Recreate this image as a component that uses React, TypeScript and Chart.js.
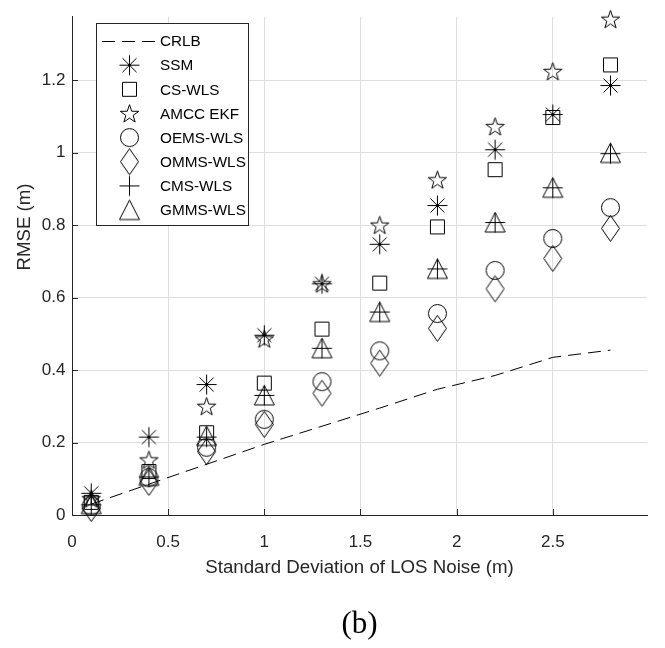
import React, { useEffect, useRef } from 'react';
import { Chart, registerables } from 'chart.js';

Chart.register(...registerables);

// ---- data ----
const xValues = [0.1, 0.4, 0.7, 1.0, 1.3, 1.6, 1.9, 2.2, 2.5, 2.8];
const crlb = [0.03, 0.085, 0.14, 0.195, 0.245, 0.295, 0.347, 0.385, 0.435, 0.455];
const ssm = [0.06, 0.215, 0.36, 0.496, 0.638, 0.747, 0.854, 1.008, 1.105, 1.185];
const csWls = [0.035, 0.12, 0.227, 0.364, 0.513, 0.64, 0.795, 0.953, 1.097, 1.242];
const amccEkf = [0.045, 0.152, 0.3, 0.486, 0.638, 0.8, 0.925, 1.072, 1.224, 1.368];
const oemsWls = [0.025, 0.103, 0.187, 0.264, 0.368, 0.453, 0.556, 0.675, 0.763, 0.848];
const ommsWls = [0.018, 0.09, 0.175, 0.25, 0.336, 0.419, 0.515, 0.624, 0.708, 0.791];
const cmsWls = [0.028, 0.105, 0.215, 0.33, 0.46, 0.56, 0.679, 0.807, 0.903, 0.997];
const gmmsWls = [0.03, 0.108, 0.218, 0.33, 0.46, 0.56, 0.679, 0.807, 0.903, 0.999];

const xTicks = [0, 0.5, 1, 1.5, 2, 2.5];
const yTicks = [0, 0.2, 0.4, 0.6, 0.8, 1, 1.2];

const seriesNames = ['CRLB', 'SSM', 'CS-WLS', 'AMCC EKF', 'OEMS-WLS', 'OMMS-WLS', 'CMS-WLS', 'GMMS-WLS'];
const markerKinds = ['line', 'asterisk', 'square', 'star', 'circle', 'diamond', 'plus', 'triangle'];

const xTitle = 'Standard Deviation of LOS Noise (m)';
const yTitle = 'RMSE (m)';
const caption = '(b)';

const SANS = '"Liberation Sans", Arial, Helvetica, sans-serif';

function makeMarker(kind: string): HTMLCanvasElement {
  const W = 25, H = 31;
  const c = document.createElement('canvas');
  c.width = W; c.height = H;
  const g = c.getContext('2d') as CanvasRenderingContext2D;
  g.strokeStyle = '#000';
  g.lineWidth = 1;
  const cx = W / 2, cy = H / 2;
  g.beginPath();
  if (kind === 'asterisk') {
    g.moveTo(cx, cy - 10); g.lineTo(cx, cy + 10);
    g.moveTo(cx - 10, cy); g.lineTo(cx + 10, cy);
    g.moveTo(cx - 7, cy - 7); g.lineTo(cx + 7, cy + 7);
    g.moveTo(cx - 7, cy + 7); g.lineTo(cx + 7, cy - 7);
  } else if (kind === 'square') {
    g.rect(cx - 7, cy - 7, 14, 14);
  } else if (kind === 'star') {
    const R = 9.6, r = 3.8;
    for (let i = 0; i < 10; i++) {
      const rad = i % 2 === 0 ? R : r;
      const a = -Math.PI / 2 + (i * Math.PI) / 5;
      const px = cx + rad * Math.cos(a);
      const py = cy + 0.8 + rad * Math.sin(a);
      if (i === 0) g.moveTo(px, py); else g.lineTo(px, py);
    }
    g.closePath();
  } else if (kind === 'circle') {
    g.arc(cx, cy, 9, 0, Math.PI * 2);
  } else if (kind === 'diamond') {
    g.moveTo(cx, cy - 13); g.lineTo(cx + 9, cy); g.lineTo(cx, cy + 13); g.lineTo(cx - 9, cy); g.closePath();
  } else if (kind === 'plus') {
    g.moveTo(cx, cy - 10); g.lineTo(cx, cy + 10);
    g.moveTo(cx - 10, cy); g.lineTo(cx + 10, cy);
  } else if (kind === 'triangle') {
    g.moveTo(cx, cy - 10); g.lineTo(cx + 10, cy + 9.5); g.lineTo(cx - 10, cy + 9.5); g.closePath();
  }
  g.stroke();
  return c;
}

export default function App() {
  const ref = useRef<HTMLCanvasElement | null>(null);

  useEffect(() => {
    if (!ref.current) return;
    const markers: Record<string, HTMLCanvasElement> = {};
    markerKinds.forEach((k) => { if (k !== 'line') markers[k] = makeMarker(k); });

    const seriesValues = [crlb, ssm, csWls, amccEkf, oemsWls, ommsWls, cmsWls, gmmsWls];

    const datasets: any[] = seriesValues.map((vals, i) => {
      const pts = xValues.map((x, j) => ({ x, y: vals[j] }));
      if (markerKinds[i] === 'line') {
        return {
          label: seriesNames[i], data: pts, showLine: true, pointRadius: 0,
          borderColor: '#000', borderWidth: 1, borderDash: [13, 7], fill: false, clip: false,
        };
      }
      return {
        label: seriesNames[i], data: pts, showLine: false,
        pointStyle: markers[markerKinds[i]], pointRadius: 8, clip: false,
        borderColor: '#000', backgroundColor: 'rgba(0,0,0,0)',
      };
    });

    const overlay = {
      id: 'overlay',
      afterDraw(chart: any) {
        const ctx = chart.ctx as CanvasRenderingContext2D;
        const xs = chart.scales.x, ys = chart.scales.y;
        const { left, right, bottom } = chart.chartArea;
        ctx.save();
        ctx.strokeStyle = '#262626';
        ctx.lineWidth = 1;
        xTicks.forEach((v) => {
          const px = Math.round(xs.getPixelForValue(v)) + 0.5;
          ctx.beginPath(); ctx.moveTo(px, bottom); ctx.lineTo(px, bottom - 6); ctx.stroke();
        });
        yTicks.forEach((v) => {
          const py = Math.round(ys.getPixelForValue(v)) + 0.5;
          ctx.beginPath(); ctx.moveTo(left, py); ctx.lineTo(left + 6, py); ctx.stroke();
        });
        // axis titles
        ctx.fillStyle = '#262626';
        ctx.font = `18.7px ${SANS}`;
        ctx.textAlign = 'center';
        ctx.textBaseline = 'middle';
        ctx.fillText(xTitle, (left + right) / 2, 568);
        ctx.save();
        ctx.translate(25, 227);
        ctx.rotate(-Math.PI / 2);
        ctx.fillText(yTitle, 0, 0);
        ctx.restore();
        // caption
        ctx.fillStyle = '#000';
        ctx.font = '31px "Liberation Serif", "Times New Roman", serif';
        ctx.textBaseline = 'alphabetic';
        ctx.fillText(caption, (left + right) / 2, 633);
        // legend
        const bx = 96.5, by = 23.5, bw = 152, bh = 202;
        ctx.fillStyle = '#fff';
        ctx.fillRect(bx, by, bw, bh);
        ctx.strokeStyle = '#262626';
        ctx.strokeRect(bx, by, bw, bh);
        ctx.font = `15.3px ${SANS}`;
        ctx.textAlign = 'left';
        ctx.textBaseline = 'middle';
        seriesNames.forEach((name, i) => {
          const yy = 41 + i * 24.15;
          const kind = markerKinds[i];
          if (kind === 'line') {
            ctx.save();
            ctx.strokeStyle = '#000';
            ctx.setLineDash([13, 7]);
            ctx.beginPath();
            ctx.moveTo(102, Math.round(yy) + 0.5);
            ctx.lineTo(156, Math.round(yy) + 0.5);
            ctx.stroke();
            ctx.restore();
          } else {
            const m = markers[kind];
            ctx.drawImage(m, 129.5 - m.width / 2, yy - m.height / 2);
          }
          ctx.fillStyle = '#000';
          ctx.fillText(name, 160, yy + 1);
        });
        ctx.restore();
      },
    };

    const chart = new Chart(ref.current, {
      type: 'scatter',
      data: { datasets },
      options: {
        responsive: false,
        animation: false,
        devicePixelRatio: 1,
        layout: { padding: { top: 13, right: 18, left: 0, bottom: 0 } },
        plugins: { legend: { display: false }, tooltip: { enabled: false } },
        events: [],
        scales: {
          x: {
            type: 'linear', position: 'bottom', min: 0, max: 2.99,
            afterBuildTicks: (s: any) => { s.ticks = xTicks.map((v) => ({ value: v })); },
            afterFit: (s: any) => { s.height = 133; },
            grid: { color: '#dedede', drawTicks: false, lineWidth: 1 },
            border: { display: true, color: '#262626', width: 1 },
            ticks: {
              padding: 17, color: '#262626', maxRotation: 0, autoSkip: false,
              font: { family: SANS, size: 17 },
              callback: (v: any) => String(v),
            },
          },
          y: {
            type: 'linear', position: 'left', min: 0, max: 1.375,
            afterBuildTicks: (s: any) => { s.ticks = yTicks.map((v) => ({ value: v })); },
            afterFit: (s: any) => { s.width = 72; },
            grid: { color: '#dedede', drawTicks: false, lineWidth: 1 },
            border: { display: true, color: '#262626', width: 1 },
            ticks: {
              padding: 6.5, color: '#262626', autoSkip: false,
              font: { family: SANS, size: 17 },
              callback: (v: any) => String(v),
            },
          },
        },
      } as any,
      plugins: [overlay],
    });

    return () => { chart.destroy(); };
  }, []);

  return (
    <div style={{ position: 'absolute', left: 0, top: 0, width: 665, height: 648, background: '#fff' }}>
      <canvas ref={ref} width={665} height={648} style={{ width: 665, height: 648, display: 'block' }} />
    </div>
  );
}
